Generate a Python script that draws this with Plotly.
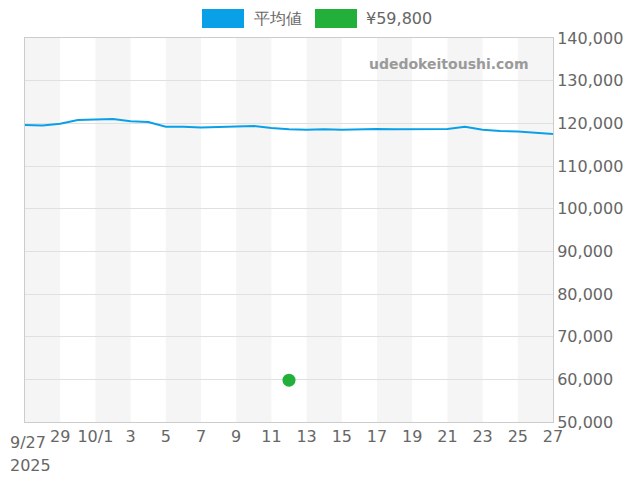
import plotly.graph_objects as go
import pandas as pd

dates = pd.date_range("2025-09-27", "2025-10-27", freq="D")
avg = [119600,119500,119900,120800,120900,121000,120500,120300,119200,119200,119000,
       119100,119200,119400,118900,118600,118500,118600,118500,118600,118700,118600,
       118600,118700,118700,119200,118500,118200,118100,117800,117500]
pt_date = ["2025-10-12"]
pt_val = [59800]
tickvals = pd.date_range("2025-09-27", "2025-10-27", freq="2D")
ticktext = ["","29","10/1","3","5","7","9","11","13","15","17","19","21","23","25","27"]
first_tick = "9/27"
year_label = "2025"
series_names = ["平均値", "¥59,800"]
series_colors = ["#0aa0e8", "#22b03a"]

fig = go.Figure()
fig.add_trace(go.Scatter(x=dates, y=avg, mode="lines", name=series_names[0],
                         line=dict(color=series_colors[0], width=2), showlegend=False))
fig.add_trace(go.Scatter(x=pt_date, y=pt_val, mode="markers", name=series_names[1],
                         marker=dict(color=series_colors[1], size=13), showlegend=False))
shapes = []
for i in range(0, 30, 4):
    shapes.append(dict(type="rect", xref="x", yref="paper", layer="below",
                       x0=dates[i], x1=dates[i+2], y0=0, y1=1,
                       fillcolor="#f5f5f5", line=dict(width=0)))
W, H = 640, 480
OFF = 8
L, R, T, B = 25 - OFF, 87 + OFF, 38 - OFF, 58 + OFF
pw, ph = W - L - R, H - T - B
def px(x): return (x - OFF - L) / pw
def py(y): return (H - B - (y - OFF)) / ph
annotations = [dict(text="<b>udedokeitoushi.com</b>", xref="paper", yref="paper",
                    x=px(531), y=py(64), xanchor="right", yanchor="middle", showarrow=False,
                    font=dict(size=14, color="#9a9a9a", family="DejaVu Sans")),
               dict(text=first_tick, xref="paper", yref="paper", x=px(8), y=py(442),
                    xanchor="left", yanchor="middle", showarrow=False,
                    font=dict(size=16, color="#666")),
               dict(text=year_label, xref="paper", yref="paper", x=px(8), y=py(465),
                    xanchor="left", yanchor="middle", showarrow=False,
                    font=dict(size=16, color="#666"))]
legend_x = [202, 315]
label_x = [252, 364]
for lx, tx, nm, c in zip(legend_x, label_x, series_names, series_colors):
    shapes.append(dict(type="rect", xref="paper", yref="paper", x0=px(lx), x1=px(lx + 42),
                       y0=py(28), y1=py(9), fillcolor=c, line=dict(width=0)))
    annotations.append(dict(text=nm, xref="paper", yref="paper", x=px(tx), y=py(18.5),
                            xanchor="left", yanchor="middle", showarrow=False,
                            font=dict(size=16, color="#666")))
fig.update_layout(
    width=W, height=H, margin=dict(l=L, r=R, t=T, b=B, autoexpand=False),
    plot_bgcolor="white", paper_bgcolor="white", shapes=shapes, annotations=annotations,
    font=dict(family="DejaVu Sans", size=16, color="#666"), showlegend=False,
)
fig.update_xaxes(range=[dates[0], dates[-1]], tickvals=tickvals, ticktext=ticktext,
                 showgrid=False, showline=True, linecolor="#ccc", mirror=True, ticks="",
                 automargin=False)
fig.update_yaxes(range=[50000, 140000], dtick=10000, side="right", tickformat=",",
                 gridcolor="#e0e0e0", showline=True, linecolor="#ccc", mirror=True,
                 automargin=False)
fig.write_html("out.html")
